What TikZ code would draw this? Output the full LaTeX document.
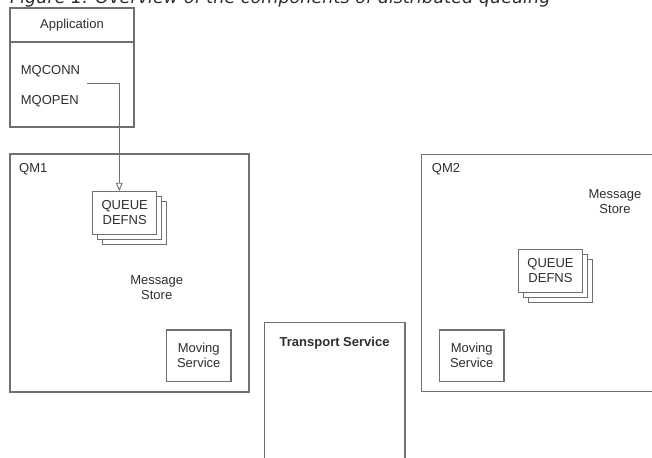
\documentclass[tikz,border=0pt]{standalone}
\usepackage{fontspec}
\setmainfont{Liberation Sans}
\newfontfamily\captionfont{DejaVu Sans}
\usepackage{tikz}
\usetikzlibrary{positioning, arrows}
\usetikzlibrary{calc}
\definecolor{linegray}{HTML}{707070}
\definecolor{textgray}{HTML}{2E2E2E}

\begin{document}
\begin{tikzpicture}
        [
            x=1pt, y=-1pt,
            box/.style={draw=linegray, line width=1.1pt, fill=white, inner sep=0pt, outer sep=0pt},
            frame/.style={inner sep=0pt, outer sep=0pt},
            edge/.style={draw=linegray, line width=1.1pt},
            txt/.style={text=textgray, inner sep=0pt, align=center, font=\fontsize{13}{15}\selectfont},
            flow/.style={draw=linegray, line width=0.9pt, -open triangle 45},
            queue/.style={box, minimum width=64pt, minimum height=43.3pt},
            mover/.style={box, txt, minimum width=64.5pt, minimum height=51.7pt},
        ]
        \useasboundingbox (0,0) rectangle (652,457);
        \node[txt, anchor=base west, font=\captionfont\itshape\fontsize{17.6}{20}\selectfont] (caption) at (10,3.5)
            {Figure 1. Overview of the components of distributed queuing};

        \node[box, minimum width=124pt, minimum height=34pt] (apphead) at (72,25) {};
        \node[box, minimum width=124pt, minimum height=85pt, below=0pt of apphead] (appbody) {};
        \node[txt, anchor=base] (appname) at (72,28.3) {Application};
        \node[txt, anchor=base west] (mqconn) at (20.7,75) {MQCONN};
        \node[txt, anchor=base west] (mqopen) at (20.7,104.3) {MQOPEN};

        \node[box, minimum width=239pt, minimum height=238pt] (qm1) at (129.5,273) {};
        \node[txt, anchor=base west] (qmonename) at (19,172.7) {QM1};
        \foreach \d in {10,5}
            \node[queue] (qmoneq\d) at (124.7+\d,212.7+\d) {};
        \node[queue, txt] (qmonequeue) at (124.7,212.7) {QUEUE\\DEFNS};
        \node[txt] (qmonestore) at (156.7,287.2) {Message\\Store};
        \node[mover] (qmonemove) at (198.7,355.8) {Moving\\Service};

        \coordinate (callpt) at (87.3,83.3);
        \draw[flow] (callpt) -| ($(qmonequeue.north)+(-5.4,0)$);

        \node[frame, minimum width=140.7pt, minimum height=135.3pt] (transport) at (334.65,390.35) {};
        \draw[edge] (transport.south west) -- (transport.north west) -- (transport.north east) -- (transport.south east);
        \node[txt, anchor=base, font=\bfseries\fontsize{13}{15}\selectfont] (transname) at (334.6,346.7) {Transport Service};

        \node[frame, minimum width=231.3pt, minimum height=237.4pt] (qm2) at (537.35,273) {};
        \draw[edge] (qm2.north east) -- (qm2.north west) -- (qm2.south west) -- (qm2.south east);
        \node[txt, anchor=base west] (qmtwoname) at (431.7,172.3) {QM2};
        \node[txt] (qmtwostore) at (615,202) {Message\\Store};
        \foreach \d in {10,5}
            \node[queue] (qmtwoq\d) at (550.5+\d,270.7+\d) {};
        \node[queue, txt] (qmtwoqueue) at (550.5,270.7) {QUEUE\\DEFNS};
        \node[mover] (qmtwomove) at (471.7,355.8) {Moving\\Service};
\end{tikzpicture}
\end{document}
